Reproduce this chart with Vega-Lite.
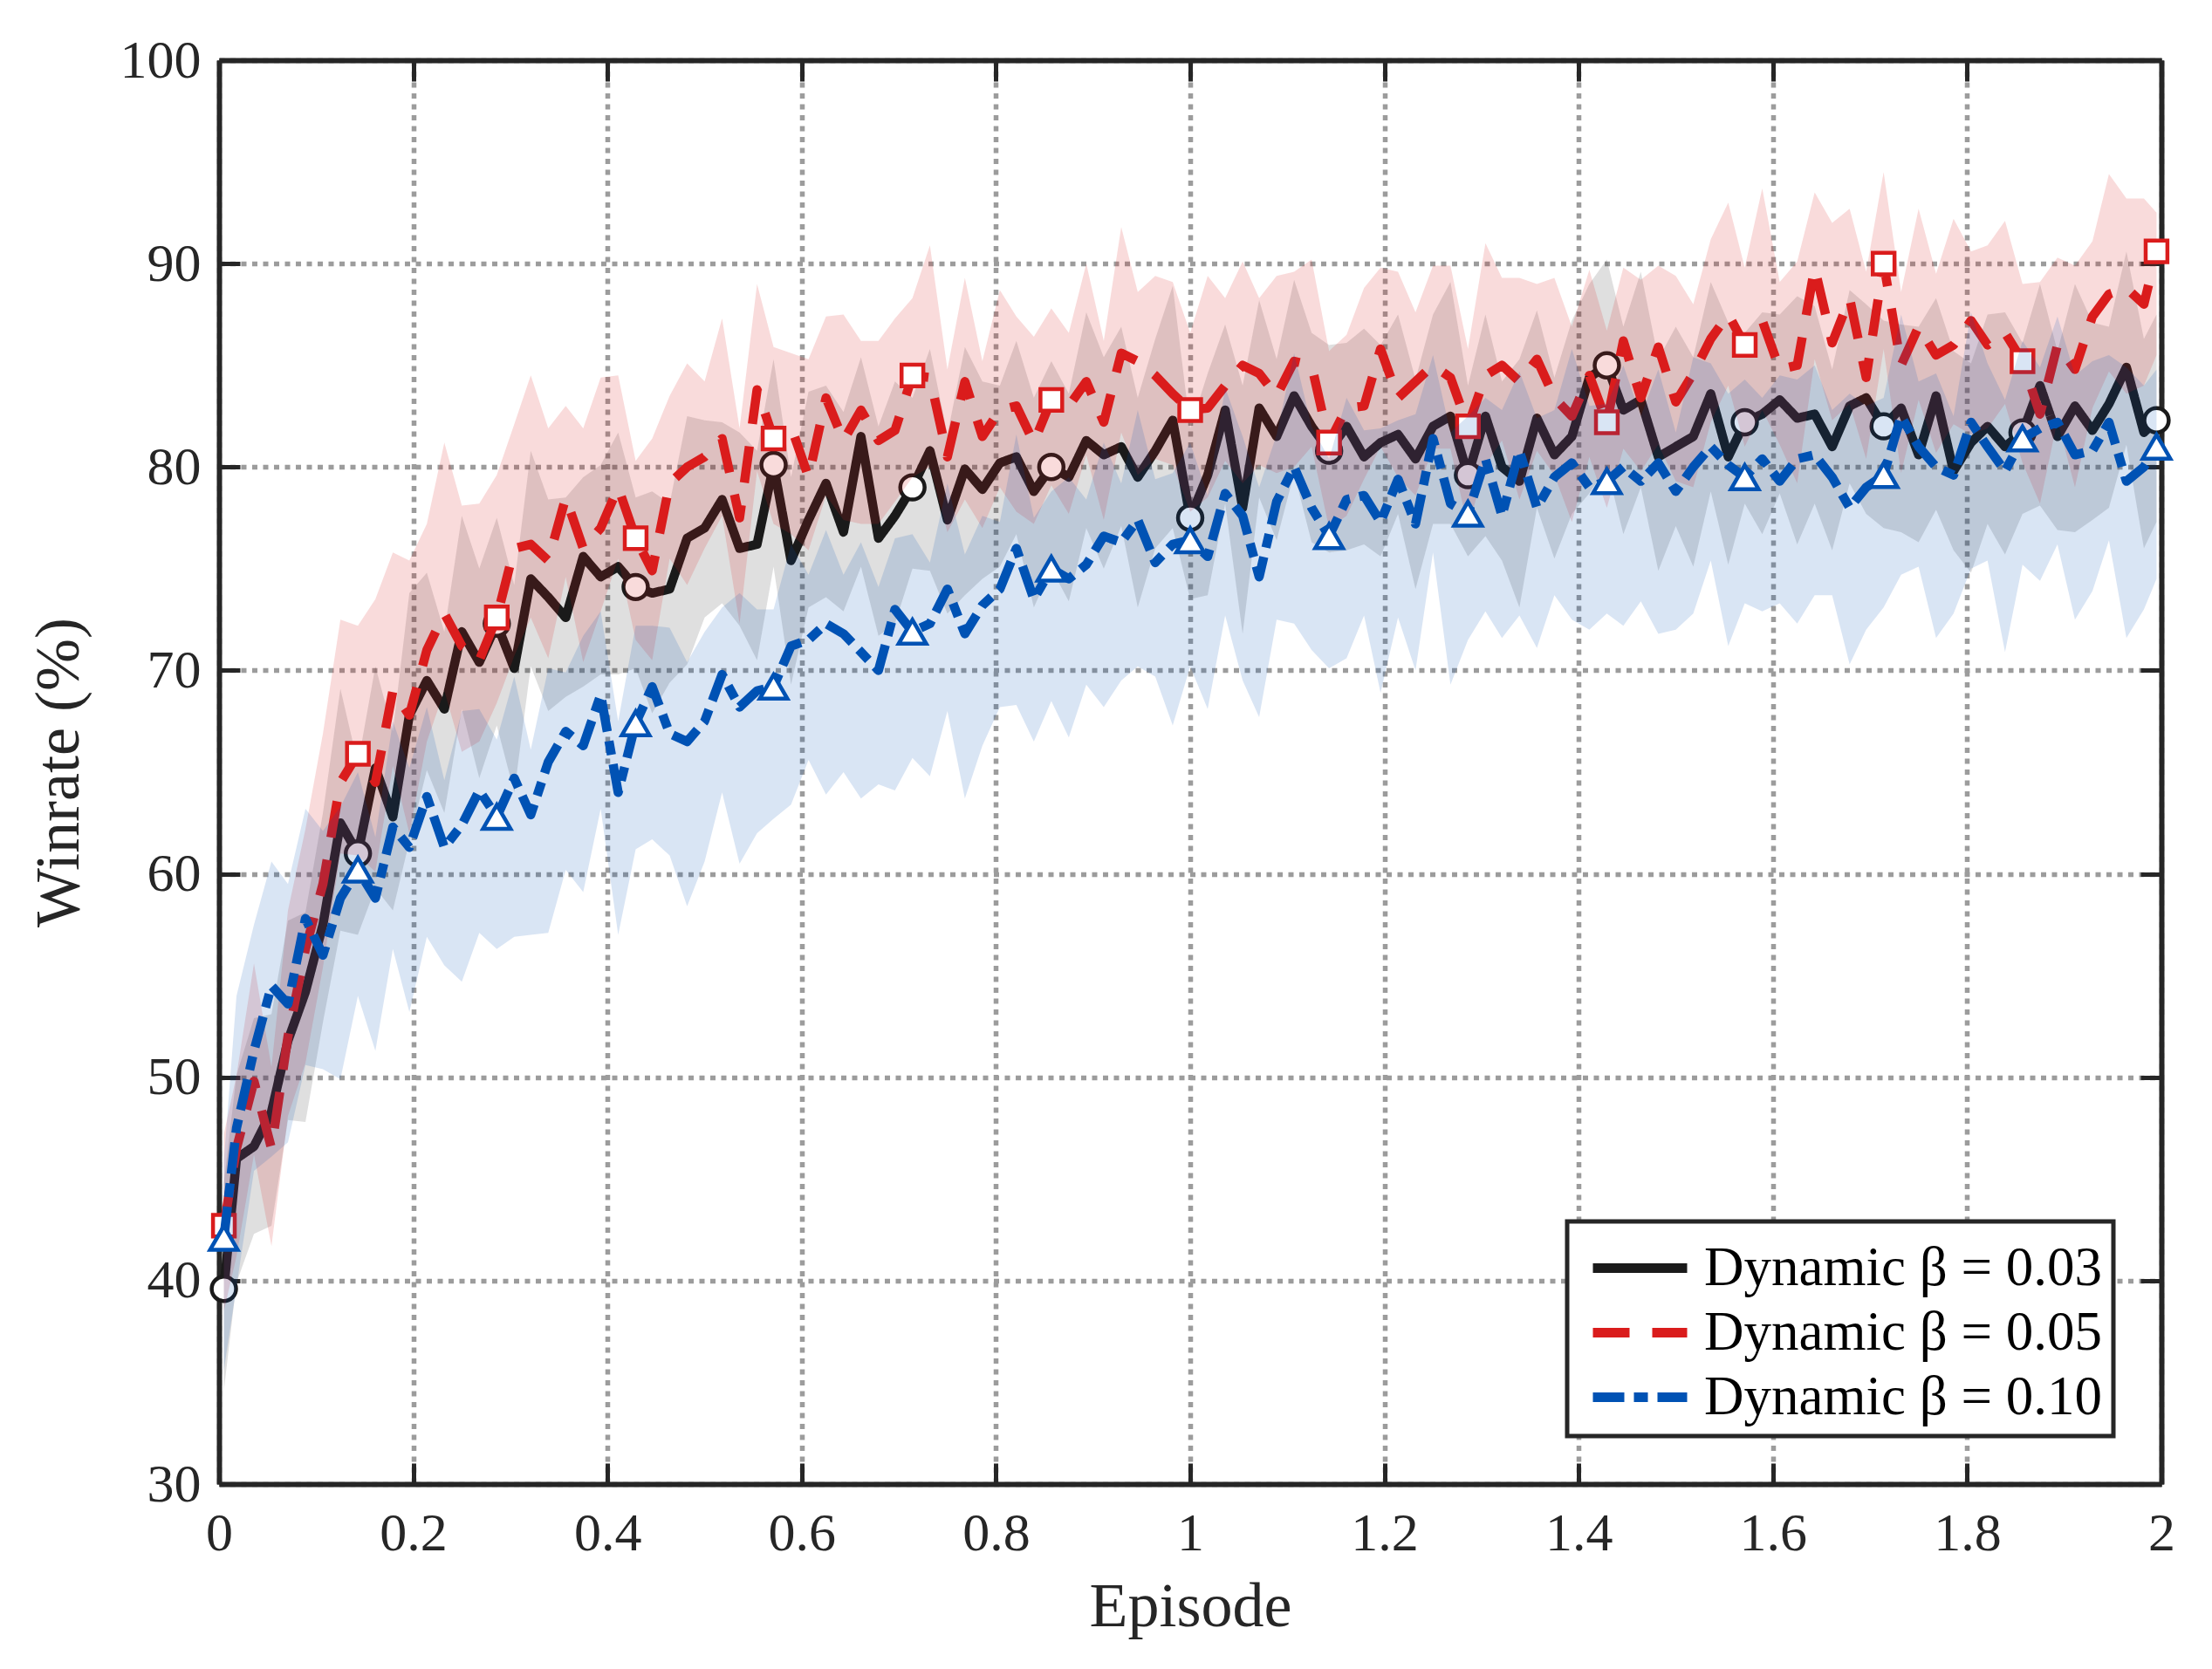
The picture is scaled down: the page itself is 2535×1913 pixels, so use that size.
{
  "$schema": "https://vega.github.io/schema/vega-lite/v6.json",
  "width": 2226,
  "height": 1632,
  "autosize": {"type": "none"},
  "padding": {"left": 251, "top": 69, "right": 58, "bottom": 212},
  "background": "white",
  "datasets": {
    "runs": [
      {"b":"0.03","e":0.005,"m":39.6,"lo":34.6,"hi":44.8},
      {"b":"0.03","e":0.018,"m":46.0,"lo":39.9,"hi":50.1},
      {"b":"0.03","e":0.036,"m":46.6,"lo":42.3,"hi":52.9},
      {"b":"0.03","e":0.054,"m":48.3,"lo":42.7,"hi":53.1},
      {"b":"0.03","e":0.071,"m":51.8,"lo":47.9,"hi":57.7},
      {"b":"0.03","e":0.089,"m":54.2,"lo":47.8,"hi":58.1},
      {"b":"0.03","e":0.107,"m":57.5,"lo":52.7,"hi":63.0},
      {"b":"0.03","e":0.125,"m":62.5,"lo":57.2,"hi":69.1},
      {"b":"0.03","e":0.143,"m":61.0,"lo":57.0,"hi":65.4},
      {"b":"0.03","e":0.161,"m":65.2,"lo":59.3,"hi":70.2},
      {"b":"0.03","e":0.179,"m":62.8,"lo":58.2,"hi":67.0},
      {"b":"0.03","e":0.196,"m":67.8,"lo":61.6,"hi":73.8},
      {"b":"0.03","e":0.214,"m":69.5,"lo":65.1,"hi":74.8},
      {"b":"0.03","e":0.232,"m":68.1,"lo":63.0,"hi":71.9},
      {"b":"0.03","e":0.25,"m":71.9,"lo":68.1,"hi":77.6},
      {"b":"0.03","e":0.268,"m":70.4,"lo":64.7,"hi":75.0},
      {"b":"0.03","e":0.286,"m":72.3,"lo":67.3,"hi":77.5},
      {"b":"0.03","e":0.304,"m":70.1,"lo":64.0,"hi":74.2},
      {"b":"0.03","e":0.321,"m":74.5,"lo":70.2,"hi":80.8},
      {"b":"0.03","e":0.339,"m":73.6,"lo":68.0,"hi":78.4},
      {"b":"0.03","e":0.357,"m":72.6,"lo":68.7,"hi":78.5},
      {"b":"0.03","e":0.375,"m":75.6,"lo":69.2,"hi":79.5},
      {"b":"0.03","e":0.393,"m":74.6,"lo":69.8,"hi":80.1},
      {"b":"0.03","e":0.411,"m":75.1,"lo":69.8,"hi":81.7},
      {"b":"0.03","e":0.429,"m":74.1,"lo":70.1,"hi":78.5},
      {"b":"0.03","e":0.446,"m":73.8,"lo":67.9,"hi":78.8},
      {"b":"0.03","e":0.464,"m":74.0,"lo":69.4,"hi":78.2},
      {"b":"0.03","e":0.482,"m":76.5,"lo":70.3,"hi":82.5},
      {"b":"0.03","e":0.5,"m":77.0,"lo":72.6,"hi":82.3},
      {"b":"0.03","e":0.518,"m":78.4,"lo":73.3,"hi":82.2},
      {"b":"0.03","e":0.536,"m":76.0,"lo":72.2,"hi":81.7},
      {"b":"0.03","e":0.554,"m":76.2,"lo":70.5,"hi":80.8},
      {"b":"0.03","e":0.571,"m":80.1,"lo":75.1,"hi":85.3},
      {"b":"0.03","e":0.589,"m":75.4,"lo":69.3,"hi":79.5},
      {"b":"0.03","e":0.607,"m":77.4,"lo":73.1,"hi":83.7},
      {"b":"0.03","e":0.625,"m":79.2,"lo":73.6,"hi":84.0},
      {"b":"0.03","e":0.643,"m":76.8,"lo":72.9,"hi":82.7},
      {"b":"0.03","e":0.661,"m":81.5,"lo":75.1,"hi":85.4},
      {"b":"0.03","e":0.679,"m":76.5,"lo":71.7,"hi":82.0},
      {"b":"0.03","e":0.696,"m":77.6,"lo":72.3,"hi":84.2},
      {"b":"0.03","e":0.714,"m":79.0,"lo":75.0,"hi":83.4},
      {"b":"0.03","e":0.732,"m":80.8,"lo":74.9,"hi":85.8},
      {"b":"0.03","e":0.75,"m":77.4,"lo":72.8,"hi":81.6},
      {"b":"0.03","e":0.768,"m":79.9,"lo":73.7,"hi":85.9},
      {"b":"0.03","e":0.786,"m":78.9,"lo":74.5,"hi":84.2},
      {"b":"0.03","e":0.804,"m":80.2,"lo":75.1,"hi":84.0},
      {"b":"0.03","e":0.821,"m":80.5,"lo":76.7,"hi":86.2},
      {"b":"0.03","e":0.839,"m":78.8,"lo":73.1,"hi":83.4},
      {"b":"0.03","e":0.857,"m":80.0,"lo":75.0,"hi":85.2},
      {"b":"0.03","e":0.875,"m":79.5,"lo":73.4,"hi":83.6},
      {"b":"0.03","e":0.893,"m":81.3,"lo":77.0,"hi":87.6},
      {"b":"0.03","e":0.911,"m":80.6,"lo":75.0,"hi":85.4},
      {"b":"0.03","e":0.929,"m":81.0,"lo":77.1,"hi":86.9},
      {"b":"0.03","e":0.946,"m":79.5,"lo":73.1,"hi":83.4},
      {"b":"0.03","e":0.964,"m":80.8,"lo":76.0,"hi":86.3},
      {"b":"0.03","e":0.982,"m":82.3,"lo":77.0,"hi":88.9},
      {"b":"0.03","e":1,"m":77.5,"lo":73.5,"hi":81.9},
      {"b":"0.03","e":1.018,"m":79.6,"lo":73.7,"hi":84.6},
      {"b":"0.03","e":1.036,"m":82.8,"lo":78.2,"hi":87.0},
      {"b":"0.03","e":1.054,"m":78.0,"lo":71.8,"hi":84.0},
      {"b":"0.03","e":1.071,"m":82.9,"lo":78.5,"hi":88.2},
      {"b":"0.03","e":1.089,"m":81.5,"lo":76.4,"hi":85.3},
      {"b":"0.03","e":1.107,"m":83.5,"lo":79.7,"hi":89.2},
      {"b":"0.03","e":1.125,"m":82.0,"lo":76.3,"hi":86.6},
      {"b":"0.03","e":1.143,"m":80.8,"lo":75.8,"hi":86.0},
      {"b":"0.03","e":1.161,"m":82.0,"lo":75.9,"hi":86.1},
      {"b":"0.03","e":1.179,"m":80.5,"lo":76.2,"hi":86.8},
      {"b":"0.03","e":1.196,"m":81.2,"lo":75.6,"hi":86.0},
      {"b":"0.03","e":1.214,"m":81.6,"lo":77.7,"hi":87.5},
      {"b":"0.03","e":1.232,"m":80.4,"lo":74.0,"hi":84.3},
      {"b":"0.03","e":1.25,"m":82.0,"lo":77.2,"hi":87.5},
      {"b":"0.03","e":1.268,"m":82.5,"lo":77.2,"hi":89.1},
      {"b":"0.03","e":1.286,"m":79.6,"lo":75.6,"hi":84.0},
      {"b":"0.03","e":1.304,"m":82.5,"lo":76.6,"hi":87.5},
      {"b":"0.03","e":1.321,"m":80.0,"lo":75.4,"hi":84.2},
      {"b":"0.03","e":1.339,"m":79.3,"lo":73.1,"hi":85.3},
      {"b":"0.03","e":1.357,"m":82.4,"lo":78.0,"hi":87.7},
      {"b":"0.03","e":1.375,"m":80.6,"lo":75.5,"hi":84.4},
      {"b":"0.03","e":1.393,"m":81.5,"lo":77.7,"hi":87.2},
      {"b":"0.03","e":1.411,"m":84.4,"lo":78.7,"hi":89.0},
      {"b":"0.03","e":1.429,"m":85.0,"lo":80.0,"hi":90.2},
      {"b":"0.03","e":1.446,"m":82.8,"lo":76.7,"hi":86.9},
      {"b":"0.03","e":1.464,"m":83.3,"lo":79.0,"hi":89.6},
      {"b":"0.03","e":1.482,"m":80.5,"lo":74.9,"hi":85.3},
      {"b":"0.03","e":1.5,"m":81.0,"lo":77.1,"hi":86.9},
      {"b":"0.03","e":1.518,"m":81.5,"lo":75.1,"hi":85.4},
      {"b":"0.03","e":1.536,"m":83.6,"lo":78.8,"hi":89.1},
      {"b":"0.03","e":1.554,"m":80.5,"lo":75.2,"hi":87.1},
      {"b":"0.03","e":1.571,"m":82.2,"lo":78.2,"hi":86.6},
      {"b":"0.03","e":1.589,"m":82.6,"lo":76.7,"hi":87.6},
      {"b":"0.03","e":1.607,"m":83.3,"lo":78.7,"hi":87.5},
      {"b":"0.03","e":1.625,"m":82.4,"lo":76.2,"hi":88.4},
      {"b":"0.03","e":1.643,"m":82.6,"lo":78.2,"hi":87.9},
      {"b":"0.03","e":1.661,"m":81.0,"lo":75.9,"hi":84.8},
      {"b":"0.03","e":1.679,"m":83.0,"lo":79.2,"hi":88.7},
      {"b":"0.03","e":1.696,"m":83.4,"lo":77.7,"hi":88.0},
      {"b":"0.03","e":1.714,"m":82.0,"lo":77.0,"hi":87.2},
      {"b":"0.03","e":1.732,"m":82.9,"lo":76.8,"hi":87.0},
      {"b":"0.03","e":1.75,"m":80.6,"lo":76.3,"hi":86.9},
      {"b":"0.03","e":1.768,"m":83.5,"lo":77.9,"hi":88.3},
      {"b":"0.03","e":1.786,"m":79.8,"lo":75.9,"hi":85.7},
      {"b":"0.03","e":1.804,"m":81.2,"lo":74.8,"hi":85.1},
      {"b":"0.03","e":1.821,"m":82.0,"lo":77.2,"hi":87.5},
      {"b":"0.03","e":1.839,"m":81.0,"lo":75.7,"hi":87.6},
      {"b":"0.03","e":1.857,"m":81.7,"lo":77.7,"hi":86.1},
      {"b":"0.03","e":1.875,"m":84.0,"lo":78.1,"hi":89.0},
      {"b":"0.03","e":1.893,"m":81.5,"lo":76.9,"hi":85.7},
      {"b":"0.03","e":1.911,"m":83.0,"lo":76.8,"hi":89.0},
      {"b":"0.03","e":1.929,"m":81.8,"lo":77.4,"hi":87.1},
      {"b":"0.03","e":1.946,"m":83.1,"lo":78.0,"hi":86.9},
      {"b":"0.03","e":1.964,"m":84.9,"lo":81.1,"hi":90.6},
      {"b":"0.03","e":1.982,"m":81.7,"lo":76.0,"hi":86.3},
      {"b":"0.03","e":1.995,"m":82.3,"lo":77.3,"hi":87.5},

      {"b":"0.05","e":0.005,"m":42.7,"lo":38.5,"hi":47.2},
      {"b":"0.05","e":0.018,"m":46.5,"lo":41.2,"hi":50.1},
      {"b":"0.05","e":0.036,"m":49.8,"lo":46.2,"hi":55.6},
      {"b":"0.05","e":0.054,"m":46.5,"lo":41.7,"hi":50.5},
      {"b":"0.05","e":0.071,"m":52.0,"lo":48.1,"hi":58.2},
      {"b":"0.05","e":0.089,"m":56.3,"lo":50.7,"hi":62.2},
      {"b":"0.05","e":0.107,"m":59.5,"lo":55.4,"hi":66.9},
      {"b":"0.05","e":0.125,"m":64.5,"lo":61.0,"hi":72.5},
      {"b":"0.05","e":0.143,"m":65.9,"lo":60.9,"hi":72.2},
      {"b":"0.05","e":0.161,"m":64.5,"lo":60.1,"hi":73.5},
      {"b":"0.05","e":0.179,"m":69.0,"lo":65.3,"hi":75.8},
      {"b":"0.05","e":0.196,"m":67.8,"lo":62.0,"hi":75.4},
      {"b":"0.05","e":0.214,"m":71.0,"lo":66.5,"hi":77.2},
      {"b":"0.05","e":0.232,"m":72.8,"lo":69.0,"hi":81.2},
      {"b":"0.05","e":0.25,"m":71.2,"lo":66.0,"hi":78.1},
      {"b":"0.05","e":0.268,"m":70.5,"lo":66.5,"hi":78.2},
      {"b":"0.05","e":0.286,"m":72.6,"lo":68.4,"hi":79.6},
      {"b":"0.05","e":0.304,"m":76.0,"lo":70.7,"hi":82.1},
      {"b":"0.05","e":0.321,"m":76.2,"lo":72.6,"hi":84.5},
      {"b":"0.05","e":0.339,"m":75.4,"lo":70.6,"hi":81.9},
      {"b":"0.05","e":0.357,"m":78.5,"lo":74.6,"hi":83.0},
      {"b":"0.05","e":0.375,"m":76.0,"lo":70.4,"hi":81.9},
      {"b":"0.05","e":0.393,"m":77.0,"lo":72.9,"hi":84.4},
      {"b":"0.05","e":0.411,"m":79.0,"lo":75.5,"hi":84.5},
      {"b":"0.05","e":0.429,"m":76.5,"lo":71.5,"hi":80.3},
      {"b":"0.05","e":0.446,"m":74.9,"lo":70.5,"hi":81.4},
      {"b":"0.05","e":0.464,"m":79.2,"lo":75.5,"hi":83.5},
      {"b":"0.05","e":0.482,"m":80.0,"lo":74.2,"hi":85.1},
      {"b":"0.05","e":0.5,"m":80.5,"lo":76.0,"hi":84.2},
      {"b":"0.05","e":0.518,"m":81.4,"lo":77.6,"hi":87.3},
      {"b":"0.05","e":0.536,"m":77.5,"lo":72.3,"hi":81.9},
      {"b":"0.05","e":0.554,"m":83.8,"lo":79.8,"hi":89.0},
      {"b":"0.05","e":0.571,"m":81.4,"lo":77.2,"hi":85.9},
      {"b":"0.05","e":0.589,"m":82.0,"lo":76.7,"hi":85.6},
      {"b":"0.05","e":0.607,"m":79.5,"lo":75.9,"hi":85.3},
      {"b":"0.05","e":0.625,"m":83.4,"lo":78.6,"hi":87.4},
      {"b":"0.05","e":0.643,"m":81.3,"lo":77.4,"hi":87.5},
      {"b":"0.05","e":0.661,"m":82.8,"lo":77.2,"hi":86.2},
      {"b":"0.05","e":0.679,"m":81.3,"lo":77.2,"hi":86.2},
      {"b":"0.05","e":0.696,"m":81.8,"lo":78.3,"hi":87.3},
      {"b":"0.05","e":0.714,"m":84.5,"lo":79.5,"hi":88.3},
      {"b":"0.05","e":0.732,"m":84.4,"lo":80.0,"hi":90.9},
      {"b":"0.05","e":0.75,"m":80.5,"lo":76.8,"hi":84.8},
      {"b":"0.05","e":0.768,"m":84.2,"lo":78.4,"hi":89.3},
      {"b":"0.05","e":0.786,"m":81.5,"lo":77.0,"hi":85.2},
      {"b":"0.05","e":0.804,"m":82.8,"lo":79.0,"hi":88.7},
      {"b":"0.05","e":0.821,"m":83.0,"lo":77.8,"hi":87.4},
      {"b":"0.05","e":0.839,"m":81.2,"lo":77.2,"hi":86.4},
      {"b":"0.05","e":0.857,"m":83.3,"lo":79.1,"hi":87.8},
      {"b":"0.05","e":0.875,"m":83.0,"lo":77.7,"hi":86.6},
      {"b":"0.05","e":0.893,"m":84.2,"lo":80.6,"hi":90.0},
      {"b":"0.05","e":0.911,"m":82.2,"lo":77.4,"hi":86.2},
      {"b":"0.05","e":0.929,"m":85.6,"lo":81.7,"hi":91.8},
      {"b":"0.05","e":0.946,"m":85.2,"lo":79.6,"hi":88.6},
      {"b":"0.05","e":0.964,"m":84.5,"lo":80.4,"hi":89.4},
      {"b":"0.05","e":0.982,"m":83.6,"lo":80.1,"hi":89.1},
      {"b":"0.05","e":1,"m":82.8,"lo":77.8,"hi":86.6},
      {"b":"0.05","e":1.018,"m":82.9,"lo":78.5,"hi":89.4},
      {"b":"0.05","e":1.036,"m":84.0,"lo":80.3,"hi":88.3},
      {"b":"0.05","e":1.054,"m":85.0,"lo":79.2,"hi":90.1},
      {"b":"0.05","e":1.071,"m":84.6,"lo":80.1,"hi":88.3},
      {"b":"0.05","e":1.089,"m":83.5,"lo":79.7,"hi":89.4},
      {"b":"0.05","e":1.107,"m":85.2,"lo":80.0,"hi":89.6},
      {"b":"0.05","e":1.125,"m":85.0,"lo":81.0,"hi":90.2},
      {"b":"0.05","e":1.143,"m":81.2,"lo":77.0,"hi":85.7},
      {"b":"0.05","e":1.161,"m":82.9,"lo":77.6,"hi":86.5},
      {"b":"0.05","e":1.179,"m":83.0,"lo":79.4,"hi":88.8},
      {"b":"0.05","e":1.196,"m":85.8,"lo":81.0,"hi":89.8},
      {"b":"0.05","e":1.214,"m":83.4,"lo":79.5,"hi":89.6},
      {"b":"0.05","e":1.232,"m":84.2,"lo":78.6,"hi":87.6},
      {"b":"0.05","e":1.25,"m":85.0,"lo":80.9,"hi":89.9},
      {"b":"0.05","e":1.268,"m":84.4,"lo":80.9,"hi":89.9},
      {"b":"0.05","e":1.286,"m":82.0,"lo":77.0,"hi":85.8},
      {"b":"0.05","e":1.304,"m":84.5,"lo":80.1,"hi":91.0},
      {"b":"0.05","e":1.321,"m":85.0,"lo":81.3,"hi":89.3},
      {"b":"0.05","e":1.339,"m":84.2,"lo":78.4,"hi":89.3},
      {"b":"0.05","e":1.357,"m":85.3,"lo":80.8,"hi":89.0},
      {"b":"0.05","e":1.375,"m":83.4,"lo":79.6,"hi":89.3},
      {"b":"0.05","e":1.393,"m":82.5,"lo":77.3,"hi":86.9},
      {"b":"0.05","e":1.411,"m":84.5,"lo":80.5,"hi":89.7},
      {"b":"0.05","e":1.429,"m":82.2,"lo":78.0,"hi":86.7},
      {"b":"0.05","e":1.446,"m":86.2,"lo":80.9,"hi":89.8},
      {"b":"0.05","e":1.464,"m":83.4,"lo":79.8,"hi":89.2},
      {"b":"0.05","e":1.482,"m":85.9,"lo":81.1,"hi":89.9},
      {"b":"0.05","e":1.5,"m":83.2,"lo":79.3,"hi":89.4},
      {"b":"0.05","e":1.518,"m":84.6,"lo":79.0,"hi":88.0},
      {"b":"0.05","e":1.536,"m":86.3,"lo":82.2,"hi":91.2},
      {"b":"0.05","e":1.554,"m":87.5,"lo":84.0,"hi":93.0},
      {"b":"0.05","e":1.571,"m":86.0,"lo":81.0,"hi":89.8},
      {"b":"0.05","e":1.589,"m":87.2,"lo":82.8,"hi":93.7},
      {"b":"0.05","e":1.607,"m":84.8,"lo":81.1,"hi":89.1},
      {"b":"0.05","e":1.625,"m":85.0,"lo":79.2,"hi":90.1},
      {"b":"0.05","e":1.643,"m":89.8,"lo":85.3,"hi":93.5},
      {"b":"0.05","e":1.661,"m":86.1,"lo":82.3,"hi":92.0},
      {"b":"0.05","e":1.679,"m":88.3,"lo":83.1,"hi":92.7},
      {"b":"0.05","e":1.696,"m":84.4,"lo":80.4,"hi":89.6},
      {"b":"0.05","e":1.714,"m":90.0,"lo":85.8,"hi":94.5},
      {"b":"0.05","e":1.732,"m":85.0,"lo":79.7,"hi":88.6},
      {"b":"0.05","e":1.75,"m":86.9,"lo":83.3,"hi":92.7},
      {"b":"0.05","e":1.768,"m":85.5,"lo":80.7,"hi":89.5},
      {"b":"0.05","e":1.786,"m":86.0,"lo":82.1,"hi":92.2},
      {"b":"0.05","e":1.804,"m":87.2,"lo":81.6,"hi":90.6},
      {"b":"0.05","e":1.821,"m":86.0,"lo":81.9,"hi":90.9},
      {"b":"0.05","e":1.839,"m":86.6,"lo":83.1,"hi":92.1},
      {"b":"0.05","e":1.857,"m":85.2,"lo":80.2,"hi":89.0},
      {"b":"0.05","e":1.875,"m":82.6,"lo":78.2,"hi":89.1},
      {"b":"0.05","e":1.893,"m":86.0,"lo":82.3,"hi":90.3},
      {"b":"0.05","e":1.911,"m":84.8,"lo":79.0,"hi":89.9},
      {"b":"0.05","e":1.929,"m":87.4,"lo":82.9,"hi":91.1},
      {"b":"0.05","e":1.946,"m":88.5,"lo":84.7,"hi":94.4},
      {"b":"0.05","e":1.964,"m":88.8,"lo":83.6,"hi":93.2},
      {"b":"0.05","e":1.982,"m":88.0,"lo":84.0,"hi":93.2},
      {"b":"0.05","e":1.995,"m":90.6,"lo":85.5,"hi":92.5},

      {"b":"0.10","e":0.005,"m":42.1,"lo":35.6,"hi":45.9},
      {"b":"0.10","e":0.018,"m":47.5,"lo":39.7,"hi":54.0},
      {"b":"0.10","e":0.036,"m":51.3,"lo":45.4,"hi":57.5},
      {"b":"0.10","e":0.054,"m":54.5,"lo":46.1,"hi":60.6},
      {"b":"0.10","e":0.071,"m":53.6,"lo":46.8,"hi":59.5},
      {"b":"0.10","e":0.089,"m":57.8,"lo":50.6,"hi":63.2},
      {"b":"0.10","e":0.107,"m":56.0,"lo":50.4,"hi":62.1},
      {"b":"0.10","e":0.125,"m":58.8,"lo":49.9,"hi":63.3},
      {"b":"0.10","e":0.143,"m":60.2,"lo":54.0,"hi":65.0},
      {"b":"0.10","e":0.161,"m":58.8,"lo":51.3,"hi":61.8},
      {"b":"0.10","e":0.179,"m":62.3,"lo":56.3,"hi":67.5},
      {"b":"0.10","e":0.196,"m":61.3,"lo":53.2,"hi":65.2},
      {"b":"0.10","e":0.214,"m":63.8,"lo":56.9,"hi":68.2},
      {"b":"0.10","e":0.232,"m":61.3,"lo":55.5,"hi":64.6},
      {"b":"0.10","e":0.25,"m":62.4,"lo":54.7,"hi":68.0},
      {"b":"0.10","e":0.268,"m":64.1,"lo":57.1,"hi":68.1},
      {"b":"0.10","e":0.286,"m":62.8,"lo":56.3,"hi":66.6},
      {"b":"0.10","e":0.304,"m":64.7,"lo":56.9,"hi":69.7},
      {"b":"0.10","e":0.321,"m":62.9,"lo":57.0,"hi":66.1},
      {"b":"0.10","e":0.339,"m":65.5,"lo":57.1,"hi":70.1},
      {"b":"0.10","e":0.357,"m":67.0,"lo":60.2,"hi":69.9},
      {"b":"0.10","e":0.375,"m":66.3,"lo":59.1,"hi":71.7},
      {"b":"0.10","e":0.393,"m":68.8,"lo":63.2,"hi":72.9},
      {"b":"0.10","e":0.411,"m":64.0,"lo":57.0,"hi":67.5},
      {"b":"0.10","e":0.429,"m":67.4,"lo":61.2,"hi":72.2},
      {"b":"0.10","e":0.446,"m":69.2,"lo":61.7,"hi":72.2},
      {"b":"0.10","e":0.464,"m":66.9,"lo":60.9,"hi":72.1},
      {"b":"0.10","e":0.482,"m":66.5,"lo":58.4,"hi":70.4},
      {"b":"0.10","e":0.5,"m":67.5,"lo":60.6,"hi":71.9},
      {"b":"0.10","e":0.518,"m":69.8,"lo":64.0,"hi":73.1},
      {"b":"0.10","e":0.536,"m":68.2,"lo":60.5,"hi":73.8},
      {"b":"0.10","e":0.554,"m":69.0,"lo":62.0,"hi":73.0},
      {"b":"0.10","e":0.571,"m":69.2,"lo":62.7,"hi":73.0},
      {"b":"0.10","e":0.589,"m":71.2,"lo":63.4,"hi":76.2},
      {"b":"0.10","e":0.607,"m":71.5,"lo":65.6,"hi":74.7},
      {"b":"0.10","e":0.625,"m":72.3,"lo":63.9,"hi":76.9},
      {"b":"0.10","e":0.643,"m":71.8,"lo":65.0,"hi":74.7},
      {"b":"0.10","e":0.661,"m":70.9,"lo":63.7,"hi":76.3},
      {"b":"0.10","e":0.679,"m":70.0,"lo":64.4,"hi":74.1},
      {"b":"0.10","e":0.696,"m":73.0,"lo":64.1,"hi":76.5},
      {"b":"0.10","e":0.714,"m":71.9,"lo":65.7,"hi":76.7},
      {"b":"0.10","e":0.732,"m":72.3,"lo":64.8,"hi":75.3},
      {"b":"0.10","e":0.75,"m":74.0,"lo":68.0,"hi":79.2},
      {"b":"0.10","e":0.768,"m":71.8,"lo":63.7,"hi":75.7},
      {"b":"0.10","e":0.786,"m":73.2,"lo":66.3,"hi":77.6},
      {"b":"0.10","e":0.804,"m":74.0,"lo":68.2,"hi":77.3},
      {"b":"0.10","e":0.821,"m":76.0,"lo":68.3,"hi":81.6},
      {"b":"0.10","e":0.839,"m":73.5,"lo":66.5,"hi":77.5},
      {"b":"0.10","e":0.857,"m":75.0,"lo":68.5,"hi":78.8},
      {"b":"0.10","e":0.875,"m":74.5,"lo":66.7,"hi":79.5},
      {"b":"0.10","e":0.893,"m":75.2,"lo":69.3,"hi":78.4},
      {"b":"0.10","e":0.911,"m":76.6,"lo":68.2,"hi":81.2},
      {"b":"0.10","e":0.929,"m":76.3,"lo":69.5,"hi":79.2},
      {"b":"0.10","e":0.946,"m":77.4,"lo":70.2,"hi":82.8},
      {"b":"0.10","e":0.964,"m":75.3,"lo":69.7,"hi":79.4},
      {"b":"0.10","e":0.982,"m":76.2,"lo":67.3,"hi":79.7},
      {"b":"0.10","e":1,"m":76.4,"lo":70.2,"hi":81.2},
      {"b":"0.10","e":1.018,"m":75.6,"lo":68.1,"hi":78.6},
      {"b":"0.10","e":1.036,"m":78.7,"lo":72.7,"hi":83.9},
      {"b":"0.10","e":1.054,"m":77.6,"lo":69.5,"hi":81.5},
      {"b":"0.10","e":1.071,"m":74.6,"lo":67.7,"hi":79.0},
      {"b":"0.10","e":1.089,"m":78.3,"lo":72.5,"hi":81.6},
      {"b":"0.10","e":1.107,"m":80.0,"lo":72.3,"hi":85.6},
      {"b":"0.10","e":1.125,"m":78.0,"lo":71.0,"hi":82.0},
      {"b":"0.10","e":1.143,"m":76.6,"lo":70.1,"hi":80.4},
      {"b":"0.10","e":1.161,"m":78.4,"lo":70.6,"hi":83.4},
      {"b":"0.10","e":1.179,"m":78.6,"lo":72.7,"hi":81.8},
      {"b":"0.10","e":1.196,"m":77.3,"lo":68.9,"hi":81.9},
      {"b":"0.10","e":1.214,"m":79.4,"lo":72.6,"hi":82.3},
      {"b":"0.10","e":1.232,"m":77.2,"lo":70.0,"hi":82.6},
      {"b":"0.10","e":1.25,"m":81.4,"lo":75.8,"hi":85.5},
      {"b":"0.10","e":1.268,"m":78.2,"lo":69.3,"hi":81.7},
      {"b":"0.10","e":1.286,"m":77.7,"lo":71.5,"hi":82.5},
      {"b":"0.10","e":1.304,"m":80.4,"lo":72.9,"hi":83.4},
      {"b":"0.10","e":1.321,"m":77.6,"lo":71.6,"hi":82.8},
      {"b":"0.10","e":1.339,"m":80.8,"lo":72.7,"hi":84.7},
      {"b":"0.10","e":1.357,"m":78.0,"lo":71.1,"hi":82.4},
      {"b":"0.10","e":1.375,"m":79.5,"lo":73.7,"hi":82.8},
      {"b":"0.10","e":1.393,"m":80.2,"lo":72.5,"hi":85.8},
      {"b":"0.10","e":1.411,"m":79.0,"lo":72.0,"hi":83.0},
      {"b":"0.10","e":1.429,"m":79.3,"lo":72.8,"hi":83.1},
      {"b":"0.10","e":1.446,"m":80.0,"lo":72.2,"hi":85.0},
      {"b":"0.10","e":1.464,"m":79.3,"lo":73.4,"hi":82.5},
      {"b":"0.10","e":1.482,"m":80.2,"lo":71.8,"hi":84.8},
      {"b":"0.10","e":1.5,"m":78.8,"lo":72.0,"hi":81.7},
      {"b":"0.10","e":1.518,"m":80.0,"lo":72.8,"hi":85.4},
      {"b":"0.10","e":1.536,"m":81.0,"lo":75.4,"hi":85.1},
      {"b":"0.10","e":1.554,"m":80.1,"lo":71.2,"hi":83.6},
      {"b":"0.10","e":1.571,"m":79.5,"lo":73.3,"hi":84.3},
      {"b":"0.10","e":1.589,"m":80.4,"lo":72.9,"hi":83.4},
      {"b":"0.10","e":1.607,"m":79.3,"lo":73.3,"hi":84.5},
      {"b":"0.10","e":1.625,"m":80.4,"lo":72.3,"hi":84.3},
      {"b":"0.10","e":1.643,"m":80.6,"lo":73.7,"hi":85.0},
      {"b":"0.10","e":1.661,"m":79.5,"lo":73.7,"hi":82.8},
      {"b":"0.10","e":1.679,"m":78.0,"lo":70.3,"hi":83.6},
      {"b":"0.10","e":1.696,"m":79.0,"lo":72.0,"hi":83.0},
      {"b":"0.10","e":1.714,"m":79.6,"lo":73.1,"hi":83.4},
      {"b":"0.10","e":1.732,"m":82.5,"lo":74.7,"hi":87.5},
      {"b":"0.10","e":1.75,"m":81.0,"lo":75.1,"hi":84.2},
      {"b":"0.10","e":1.768,"m":80.0,"lo":71.6,"hi":84.6},
      {"b":"0.10","e":1.786,"m":79.6,"lo":72.8,"hi":82.5},
      {"b":"0.10","e":1.804,"m":82.2,"lo":75.0,"hi":87.6},
      {"b":"0.10","e":1.821,"m":81.0,"lo":75.4,"hi":85.1},
      {"b":"0.10","e":1.839,"m":79.8,"lo":70.9,"hi":83.3},
      {"b":"0.10","e":1.857,"m":81.4,"lo":75.2,"hi":86.2},
      {"b":"0.10","e":1.875,"m":81.9,"lo":74.4,"hi":84.9},
      {"b":"0.10","e":1.893,"m":82.2,"lo":76.2,"hi":87.4},
      {"b":"0.10","e":1.911,"m":80.6,"lo":72.5,"hi":84.5},
      {"b":"0.10","e":1.929,"m":80.8,"lo":73.9,"hi":85.2},
      {"b":"0.10","e":1.946,"m":82.2,"lo":76.4,"hi":85.5},
      {"b":"0.10","e":1.964,"m":79.3,"lo":71.6,"hi":84.9},
      {"b":"0.10","e":1.982,"m":80.0,"lo":73.0,"hi":84.0},
      {"b":"0.10","e":1.995,"m":81.0,"lo":74.5,"hi":84.8}
    ]
  },
  "data": {"name": "runs"},
  "resolve": {"axis": {"x": "independent", "y": "independent"}},
  "layer": [
    {
      "transform": [{"filter": "datum.b === '0.03'"}],
      "mark": {"type": "area", "color": "#1a1a1a", "opacity": 0.14},
      "encoding": {
        "x": {
          "field": "e", "type": "quantitative",
          "scale": {"domain": [0, 2], "nice": false, "zero": false},
          "axis": {
            "orient": "bottom", "values": [0, 0.2, 0.4, 0.6, 0.8, 1, 1.2, 1.4, 1.6, 1.8, 2],
            "format": "~g", "title": "Episode", "grid": true, "labelPadding": 50, "labelFlush": false,
            "titleX": 1113, "titleY": 162, "titleBaseline": "alphabetic"
          }
        },
        "y": {
          "field": "lo", "type": "quantitative",
          "scale": {"domain": [30, 100], "nice": false, "zero": false},
          "axis": {
            "orient": "left", "values": [30, 40, 50, 60, 70, 80, 90, 100],
            "title": "Winrate (%)", "grid": true, "labelPadding": 45, "labelFlush": false,
            "titleX": -162, "titleY": 816, "titleBaseline": "alphabetic"
          }
        },
        "y2": {"field": "hi"}
      }
    },
    {
      "transform": [{"filter": "datum.b === '0.03'"}],
      "mark": {"type": "line", "strokeWidth": 10.5, "strokeJoin": "round"},
      "encoding": {
        "x": {
          "field": "e", "type": "quantitative",
          "axis": {"orient": "top", "values": [0, 0.2, 0.4, 0.6, 0.8, 1, 1.2, 1.4, 1.6, 1.8, 2], "labels": false, "grid": false, "title": null}
        },
        "y": {
          "field": "m", "type": "quantitative",
          "axis": {"orient": "right", "values": [30, 40, 50, 60, 70, 80, 90, 100], "labels": false, "grid": false, "title": null}
        },
        "color": {
          "field": "b", "type": "nominal",
          "scale": {"domain": ["0.03", "0.05", "0.10"], "range": ["#1a1a1a", "#da1c1c", "#0052b4"]},
          "legend": {"title": null, "labelExpr": "'Dynamic β = ' + datum.label"}
        },
        "strokeDash": {
          "field": "b", "type": "nominal",
          "scale": {"domain": ["0.03", "0.05", "0.10"], "range": [[1, 0], [42, 26], [36, 11, 16, 11]]},
          "legend": {"title": null, "labelExpr": "'Dynamic β = ' + datum.label"}
        }
      }
    },
    {
      "transform": [
        {"filter": "datum.b === '0.03'"},
        {"filter": {"field": "e", "oneOf": [0.005, 0.143, 0.286, 0.429, 0.571, 0.714, 0.857, 1, 1.143, 1.286, 1.429, 1.571, 1.714, 1.857, 1.995]}}
      ],
      "mark": {"type": "point", "shape": "circle", "filled": true, "fill": "white", "stroke": "#1a1a1a", "strokeWidth": 4.5, "size": 780, "opacity": 1},
      "encoding": {
        "x": {"field": "e", "type": "quantitative", "axis": null},
        "y": {"field": "m", "type": "quantitative", "axis": null}
      }
    },
    {
      "transform": [{"filter": "datum.b === '0.05'"}],
      "mark": {"type": "area", "color": "#da1c1c", "opacity": 0.16},
      "encoding": {
        "x": {"field": "e", "type": "quantitative", "axis": null},
        "y": {"field": "lo", "type": "quantitative", "axis": null},
        "y2": {"field": "hi"}
      }
    },
    {
      "transform": [{"filter": "datum.b === '0.05'"}],
      "mark": {"type": "line", "strokeWidth": 10.5, "strokeJoin": "round"},
      "encoding": {
        "x": {"field": "e", "type": "quantitative", "axis": null},
        "y": {"field": "m", "type": "quantitative", "axis": null},
        "color": {"field": "b", "type": "nominal", "legend": {"title": null, "labelExpr": "'Dynamic β = ' + datum.label"}},
        "strokeDash": {"field": "b", "type": "nominal", "legend": {"title": null, "labelExpr": "'Dynamic β = ' + datum.label"}}
      }
    },
    {
      "transform": [
        {"filter": "datum.b === '0.05'"},
        {"filter": {"field": "e", "oneOf": [0.005, 0.143, 0.286, 0.429, 0.571, 0.714, 0.857, 1, 1.143, 1.286, 1.429, 1.571, 1.714, 1.857, 1.995]}}
      ],
      "mark": {"type": "point", "shape": "square", "filled": true, "fill": "white", "stroke": "#da1c1c", "strokeWidth": 4.5, "size": 620, "opacity": 1},
      "encoding": {
        "x": {"field": "e", "type": "quantitative", "axis": null},
        "y": {"field": "m", "type": "quantitative", "axis": null}
      }
    },
    {
      "transform": [{"filter": "datum.b === '0.10'"}],
      "mark": {"type": "area", "color": "#0052b4", "opacity": 0.15},
      "encoding": {
        "x": {"field": "e", "type": "quantitative", "axis": null},
        "y": {"field": "lo", "type": "quantitative", "axis": null},
        "y2": {"field": "hi"}
      }
    },
    {
      "transform": [{"filter": "datum.b === '0.10'"}],
      "mark": {"type": "line", "strokeWidth": 10.5, "strokeJoin": "round"},
      "encoding": {
        "x": {"field": "e", "type": "quantitative", "axis": null},
        "y": {"field": "m", "type": "quantitative", "axis": null},
        "color": {"field": "b", "type": "nominal", "legend": {"title": null, "labelExpr": "'Dynamic β = ' + datum.label"}},
        "strokeDash": {"field": "b", "type": "nominal", "legend": {"title": null, "labelExpr": "'Dynamic β = ' + datum.label"}}
      }
    },
    {
      "transform": [
        {"filter": "datum.b === '0.10'"},
        {"filter": {"field": "e", "oneOf": [0.005, 0.143, 0.286, 0.429, 0.571, 0.714, 0.857, 1, 1.143, 1.286, 1.429, 1.571, 1.714, 1.857, 1.995]}}
      ],
      "mark": {"type": "point", "shape": "triangle-up", "filled": true, "fill": "white", "stroke": "#0052b4", "strokeWidth": 4.5, "size": 1000, "opacity": 1},
      "encoding": {
        "x": {"field": "e", "type": "quantitative", "axis": null},
        "y": {"field": "m", "type": "quantitative", "axis": null}
      }
    }
  ],
  "config": {
    "view": {"stroke": null},
    "font": "Liberation Serif",
    "axis": {
      "domainColor": "#262626", "domainWidth": 6,
      "tickColor": "#262626", "tickWidth": 5, "tickSize": -24,
      "labelFont": "Liberation Serif", "labelFontSize": 62, "labelColor": "#262626", "labelOverlap": false,
      "titleFont": "Liberation Serif", "titleFontSize": 72, "titleFontWeight": "normal", "titleColor": "#262626",
      "gridColor": "#9c9c9c", "gridWidth": 5.5, "gridDash": [6, 6.5], "gridOpacity": 1
    },
    "legend": {
      "orient": "bottom-right", "offset": 55, "padding": 12,
      "strokeColor": "#262626", "strokeWidth": 5, "fillColor": "white", "cornerRadius": 0,
      "labelFont": "Liberation Serif", "labelFontSize": 63, "labelColor": "#000000", "labelOffset": 32, "labelLimit": 0,
      "symbolType": "M-1.5,0H1.5", "symbolSize": 5184, "symbolOffset": 30, "symbolStrokeWidth": 11, "rowPadding": 0
    }
  }
}
